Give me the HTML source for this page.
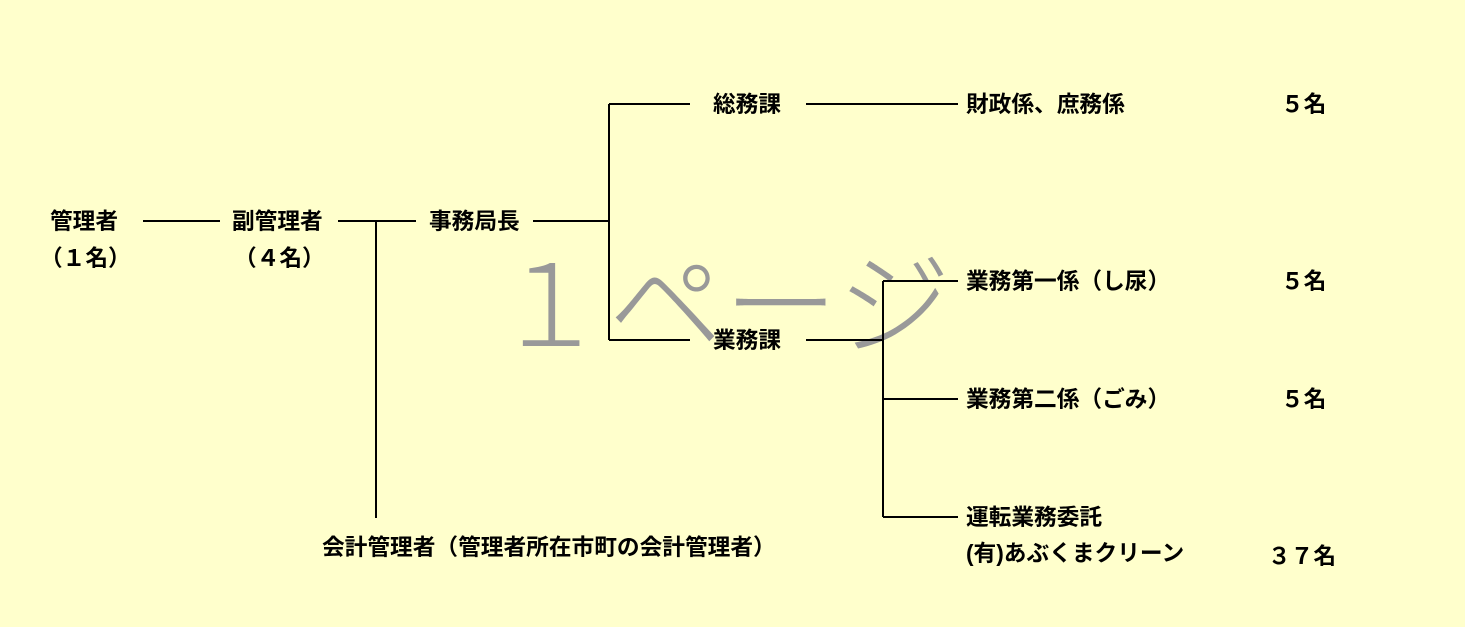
<!DOCTYPE html>
<html><head><meta charset="utf-8"><style>
html,body{margin:0;padding:0;background:#FFFFCC;}
svg{display:block}
text{font-family:"Liberation Sans","Noto Sans CJK JP",sans-serif;}
.t{font-size:22.7px;font-weight:bold;fill:#000;}
</style></head><body>
<svg width="1465" height="627" viewBox="0 0 1465 627" xmlns="http://www.w3.org/2000/svg">
<rect width="1465" height="627" fill="#FFFFCC"/>
<text x="493" y="346" font-size="114" textLength="458" fill="#999" style="font-family:'Noto Sans CJK JP',sans-serif;font-weight:300">１ページ</text>
<g stroke="#000" stroke-width="2" fill="none">
<line x1="143" y1="221" x2="220" y2="221"/>
<line x1="338" y1="221" x2="416" y2="221"/>
<line x1="376" y1="221" x2="376" y2="518"/>
<line x1="533" y1="221" x2="609" y2="221"/>
<line x1="609" y1="104" x2="609" y2="340"/>
<line x1="609" y1="104" x2="690" y2="104"/>
<line x1="806" y1="104" x2="958" y2="104"/>
<line x1="609" y1="340" x2="690" y2="340"/>
<line x1="806" y1="340" x2="883" y2="340"/>
<line x1="883" y1="281" x2="883" y2="517"/>
<line x1="883" y1="281" x2="958" y2="281"/>
<line x1="883" y1="399" x2="958" y2="399"/>
<line x1="883" y1="517" x2="958" y2="517"/>
</g>
<g class="t">
<text class="t" x="50" y="229">管理者</text>
<text class="t" x="40" y="266">（１名）</text>
<text class="t" x="232" y="229">副管理者</text>
<text class="t" x="234" y="266">（４名）</text>
<text class="t" x="429" y="229">事務局長</text>
<text class="t" x="713" y="112">総務課</text>
<text class="t" x="966" y="112">財政係、庶務係</text>
<text class="t" x="1281" y="112">５名</text>
<text class="t" x="713" y="348">業務課</text>
<text class="t" x="966" y="289">業務第一係（し尿）</text>
<text class="t" x="1281" y="289">５名</text>
<text class="t" x="966" y="407">業務第二係（ごみ）</text>
<text class="t" x="1281" y="407">５名</text>
<text class="t" x="966" y="525">運転業務委託</text>
<text class="t" x="966" y="561">(有)あぶくまクリーン</text>
<text class="t" x="1268" y="564">３７名</text>
<text class="t" x="322" y="555">会計管理者（管理者所在市町の会計管理者）</text>
</g>
</svg>
</body></html>
